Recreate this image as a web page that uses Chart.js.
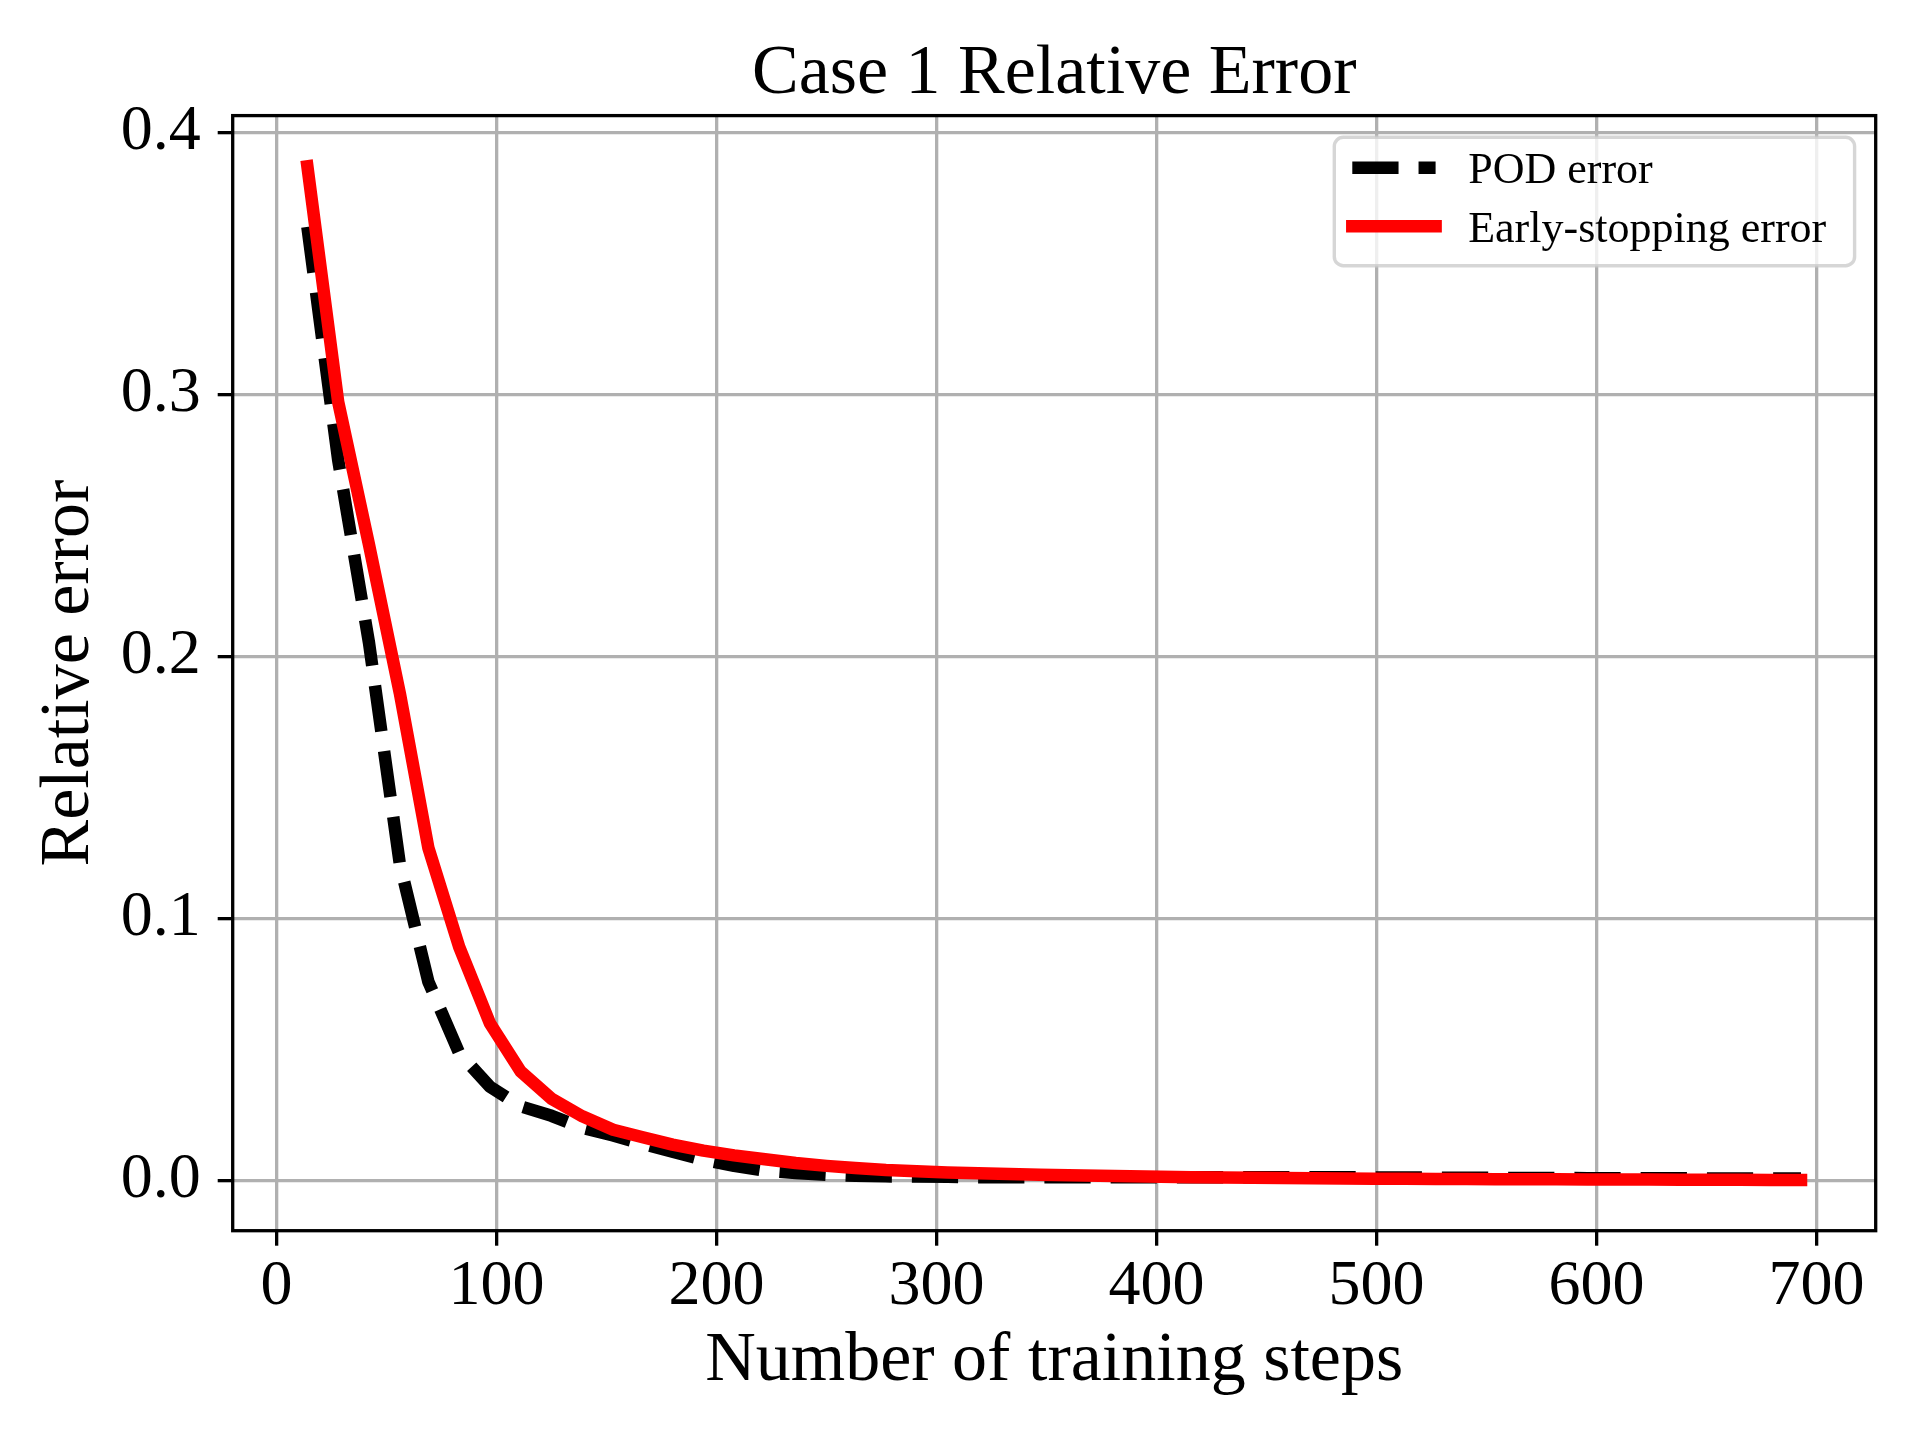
<!DOCTYPE html>
<html>
<head>
<meta charset="utf-8">
<script src="https://cdn.jsdelivr.net/npm/chart.js@4.4.1/dist/chart.umd.min.js"></script>
<style>
  html, body { margin: 0; padding: 0; background: #ffffff; }
  canvas { display: block; }
</style>
</head>
<body>
<canvas id="c" width="1920" height="1440"></canvas>
<script>
// ---------------- data ----------------
const steps = [14, 28, 42, 56, 69, 83, 97, 111, 125, 139,
               153, 166, 180, 194, 208, 222, 236, 250, 263, 277,
               291, 305, 319, 333, 347, 360, 374, 388, 402, 416,
               430, 444, 457, 471, 485, 499, 513, 527, 541, 554,
               568, 582, 596, 610, 624, 638, 651, 665, 679, 693];

const podError = [0.3640, 0.2750, 0.2053, 0.1210, 0.0759, 0.0487, 0.0358, 0.0283, 0.0247, 0.0201,
                  0.0172, 0.0141, 0.0110, 0.0079, 0.0056, 0.0038, 0.0029, 0.0022, 0.0018, 0.0016,
                  0.0015, 0.0014, 0.0013, 0.0013, 0.0013, 0.0013, 0.0013, 0.0013, 0.0013, 0.0013,
                  0.0013, 0.0013, 0.0013, 0.0013, 0.0013, 0.0012, 0.0012, 0.0011, 0.0011, 0.0010,
                  0.0010, 0.0010, 0.0009, 0.0009, 0.0009, 0.0009, 0.0008, 0.0008, 0.0008, 0.0008];

const earlyStoppingError = [0.3871, 0.2972, 0.2427, 0.1861, 0.1270, 0.0892, 0.0600, 0.0416, 0.0312, 0.0245,
                            0.0194, 0.0166, 0.0137, 0.0114, 0.0096, 0.0081, 0.0067, 0.0056, 0.0048, 0.0040,
                            0.0035, 0.0031, 0.0028, 0.0025, 0.0022, 0.0020, 0.0018, 0.0016, 0.0014, 0.0013,
                            0.0012, 0.0011, 0.0010, 0.0009, 0.0008, 0.0007, 0.0007, 0.0006, 0.0006, 0.0005,
                            0.0005, 0.0005, 0.0004, 0.0004, 0.0004, 0.0003, 0.0003, 0.0003, 0.0002, 0.0002];

const xTickValues = [0, 100, 200, 300, 400, 500, 600, 700];
const xTickLabels = ['0', '100', '200', '300', '400', '500', '600', '700'];
const yTickValues = [0.0, 0.1, 0.2, 0.3, 0.4];
const yTickLabels = ['0.0', '0.1', '0.2', '0.3', '0.4'];

const seriesLabels = ['POD error', 'Early-stopping error'];
const chartTitle = 'Case 1 Relative Error';
const xAxisTitle = 'Number of training steps';
const yAxisTitle = 'Relative error';

// ---------------- styling / layout ----------------
const SERIF = '"Liberation Serif", "DejaVu Serif", serif';
const LW = 12.5;
const AREA = { left: 232.7, top: 115.6, right: 1875.7, bottom: 1230.7 };

// matplotlib-like 5% margins computed from the data
const allY = podError.concat(earlyStoppingError);
const xLo = Math.min(...steps), xHi = Math.max(...steps);
const yLo = Math.min(...allY), yHi = Math.max(...allY);
const xMin = xLo - 0.05 * (xHi - xLo), xMax = xHi + 0.05 * (xHi - xLo);
const yMin = yLo - 0.05 * (yHi - yLo), yMax = yHi + 0.05 * (yHi - yLo);

const framePlugin = {
  id: 'frame',
  afterDatasetsDraw(chart) {
    const { ctx, chartArea: a } = chart;
    ctx.save();
    ctx.strokeStyle = '#000';
    ctx.lineWidth = 3.3;
    ctx.strokeRect(a.left, a.top, a.right - a.left, a.bottom - a.top);
    ctx.restore();
  }
};

const titlePlugin = {
  id: 'mplTitle',
  afterDraw(chart) {
    const { ctx, chartArea: a } = chart;
    ctx.save();
    ctx.fillStyle = '#000';
    ctx.font = '70px ' + SERIF;
    ctx.textAlign = 'center';
    ctx.textBaseline = 'alphabetic';
    ctx.fillText(chartTitle, (a.left + a.right) / 2, 93);
    ctx.restore();
  }
};

const legendPlugin = {
  id: 'mplLegend',
  afterDraw(chart) {
    const { ctx, chartArea: a } = chart;
    const bw = 520.3, bh = 128.4;
    const bx = a.right - 21.1 - bw, by = a.top + 21.7;
    ctx.save();
    ctx.beginPath();
    ctx.roundRect(bx, by, bw, bh, 9);
    ctx.fillStyle = 'rgba(255,255,255,0.8)';
    ctx.fill();
    ctx.lineWidth = 3.4;
    ctx.strokeStyle = 'rgba(204,204,204,0.8)';
    ctx.stroke();
    ctx.restore();

    const rowCenters = [by + 30.5, by + 89.0];
    const hx0 = bx + 18.0, hx1 = bx + 101.3, tx = bx + 133.9;
    chart.data.datasets.forEach((ds, i) => {
      const y = rowCenters[i];
      ctx.save();
      ctx.strokeStyle = ds.borderColor;
      ctx.lineWidth = ds.borderWidth;
      ctx.setLineDash(ds.borderDash || []);
      ctx.lineCap = ds.borderCapStyle || 'butt';
      ctx.beginPath();
      ctx.moveTo(hx0, y);
      ctx.lineTo(hx1, y);
      ctx.stroke();
      ctx.restore();
      ctx.save();
      ctx.fillStyle = '#000';
      ctx.font = '44px ' + SERIF;
      ctx.textAlign = 'left';
      ctx.textBaseline = 'alphabetic';
      ctx.fillText(ds.label, tx, y + 15.5);
      ctx.restore();
    });
  }
};

const gridOpts = {
  color: '#b0b0b0',
  lineWidth: 3.3,
  drawTicks: true,
  tickLength: 15,
  tickColor: '#000',
  tickWidth: 3.3
};

new Chart(document.getElementById('c').getContext('2d'), {
  type: 'line',
  data: {
    datasets: [
      {
        label: seriesLabels[0],
        data: steps.map((s, i) => ({ x: s, y: podError[i] })),
        borderColor: '#000000',
        borderWidth: LW,
        borderDash: [46.25, 20],
        borderCapStyle: 'butt',
        borderJoinStyle: 'round',
        pointRadius: 0,
        tension: 0,
        fill: false,
        order: 2
      },
      {
        label: seriesLabels[1],
        data: steps.map((s, i) => ({ x: s, y: earlyStoppingError[i] })),
        borderColor: '#ff0000',
        borderWidth: LW,
        borderCapStyle: 'square',
        borderJoinStyle: 'round',
        pointRadius: 0,
        tension: 0,
        fill: false,
        order: 1
      }
    ]
  },
  options: {
    responsive: false,
    animation: false,
    devicePixelRatio: 1,
    layout: { padding: { left: 0, top: AREA.top, right: 1920 - AREA.right, bottom: 0 } },
    plugins: {
      legend: { display: false },
      title: { display: false },
      tooltip: { enabled: false }
    },
    scales: {
      x: {
        type: 'linear',
        min: xMin,
        max: xMax,
        afterFit(s) { s.height = 1440 - AREA.bottom; },
        afterBuildTicks(s) { s.ticks = xTickValues.map(v => ({ value: v })); },
        ticks: {
          autoSkip: false,
          maxRotation: 0,
          minRotation: 0,
          padding: 3,
          color: '#000',
          font: { family: SERIF, size: 64 },
          callback: (v, i) => xTickLabels[i]
        },
        grid: gridOpts,
        border: { display: false },
        title: {
          display: true,
          text: xAxisTitle,
          color: '#000',
          font: { family: SERIF, size: 70 },
          padding: { top: 0, bottom: 36 }
        }
      },
      y: {
        type: 'linear',
        min: yMin,
        max: yMax,
        afterFit(s) { s.width = AREA.left; },
        afterBuildTicks(s) { s.ticks = yTickValues.map(v => ({ value: v })); },
        ticks: {
          autoSkip: false,
          padding: 17,
          color: '#000',
          font: { family: SERIF, size: 64 },
          callback: (v, i) => yTickLabels[i]
        },
        grid: gridOpts,
        border: { display: false },
        title: {
          display: true,
          text: yAxisTitle,
          color: '#000',
          font: { family: SERIF, size: 70 },
          padding: { top: 27.4, bottom: 0 }
        }
      }
    }
  },
  plugins: [framePlugin, titlePlugin, legendPlugin]
});
</script>
</body>
</html>
